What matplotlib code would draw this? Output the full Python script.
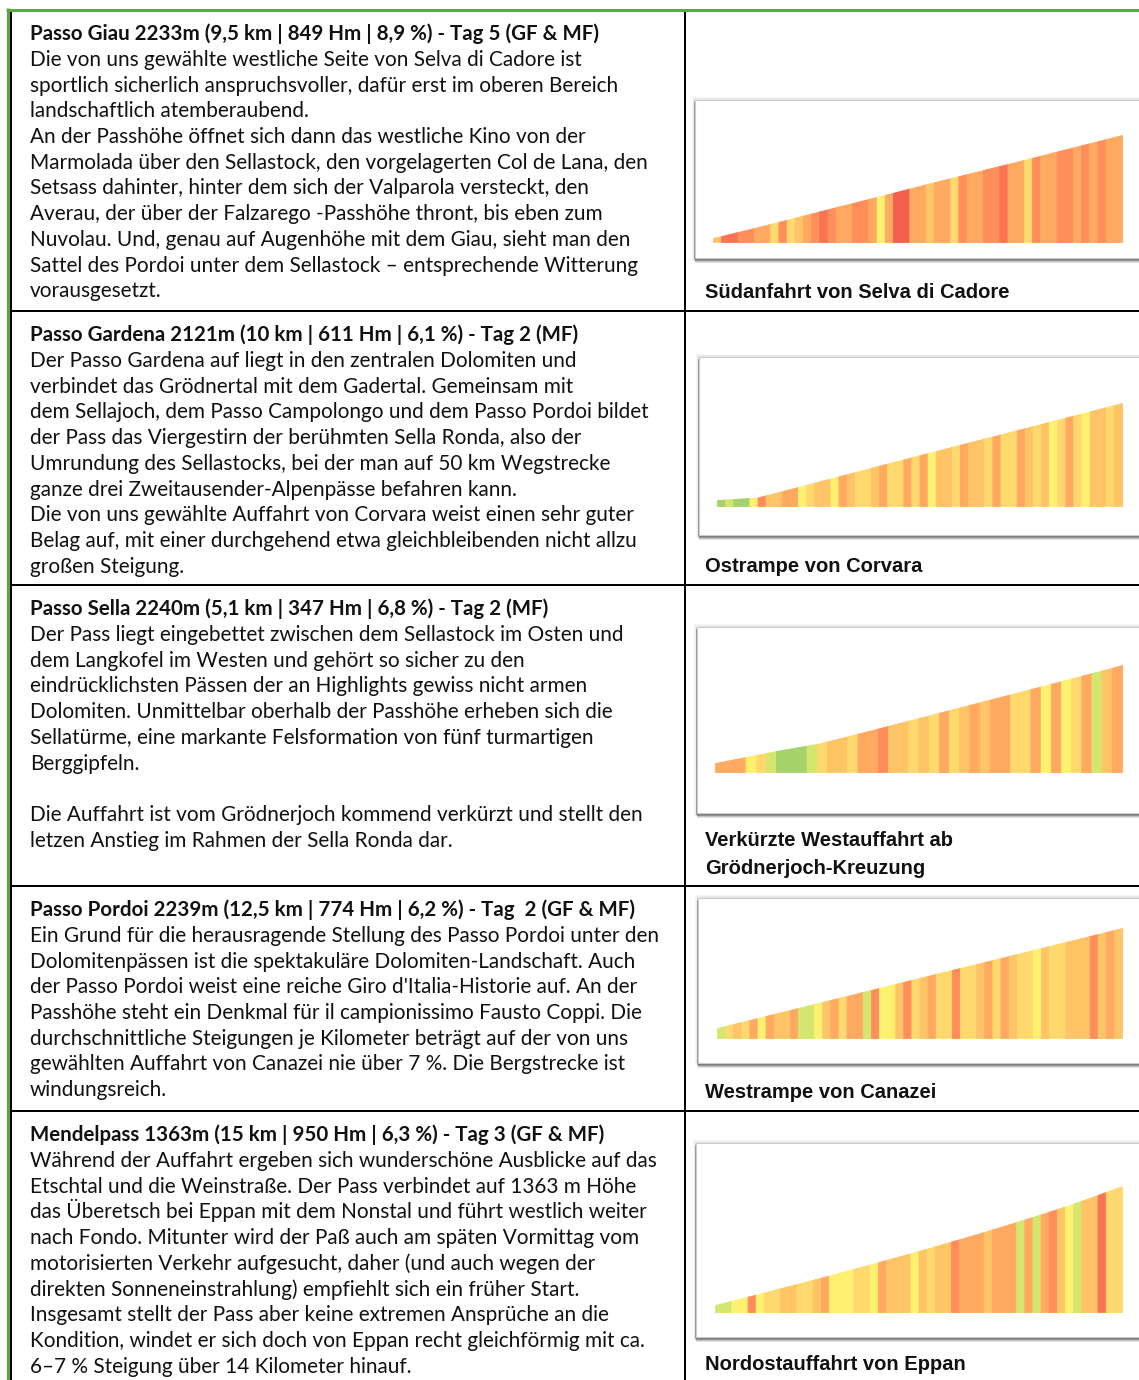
import matplotlib
matplotlib.use('Agg')
import matplotlib.pyplot as plt
from matplotlib.patches import Rectangle
import numpy as np

# ---------------- data ----------------
headers = [
    "Passo Giau 2233m (9,5 km | 849 Hm | 8,9 %) - Tag 5 (GF & MF)",
    "Passo Gardena 2121m (10 km | 611 Hm | 6,1 %) - Tag 2 (MF)",
    "Passo Sella 2240m (5,1 km | 347 Hm | 6,8 %) - Tag 2 (MF)",
    "Passo Pordoi 2239m (12,5 km | 774 Hm | 6,2 %) - Tag  2 (GF & MF)",
    "Mendelpass 1363m (15 km | 950 Hm | 6,3 %) - Tag 3 (GF & MF)",
]

body_giau = [
    "Die von uns gewählte westliche Seite von Selva di Cadore ist",
    "sportlich sicherlich anspruchsvoller, dafür erst im oberen Bereich",
    "landschaftlich atemberaubend.",
    "An der Passhöhe öffnet sich dann das westliche Kino von der",
    "Marmolada über den Sellastock, den vorgelagerten Col de Lana, den",
    "Setsass dahinter, hinter dem sich der Valparola versteckt, den",
    "Averau, der über der Falzarego -Passhöhe thront, bis eben zum",
    "Nuvolau. Und, genau auf Augenhöhe mit dem Giau, sieht man den",
    "Sattel des Pordoi unter dem Sellastock – entsprechende Witterung",
    "vorausgesetzt.",
]
body_gardena = [
    "Der Passo Gardena auf liegt in den zentralen Dolomiten und",
    "verbindet das Grödnertal mit dem Gadertal. Gemeinsam mit",
    "dem Sellajoch, dem Passo Campolongo und dem Passo Pordoi bildet",
    "der Pass das Viergestirn der berühmten Sella Ronda, also der",
    "Umrundung des Sellastocks, bei der man auf 50 km Wegstrecke",
    "ganze drei Zweitausender-Alpenpässe befahren kann.",
    "Die von uns gewählte Auffahrt von Corvara weist einen sehr guter",
    "Belag auf, mit einer durchgehend etwa gleichbleibenden nicht allzu",
    "großen Steigung.",
]
body_sella = [
    "Der Pass liegt eingebettet zwischen dem Sellastock im Osten und",
    "dem Langkofel im Westen und gehört so sicher zu den",
    "eindrücklichsten Pässen der an Highlights gewiss nicht armen",
    "Dolomiten. Unmittelbar oberhalb der Passhöhe erheben sich die",
    "Sellatürme, eine markante Felsformation von fünf turmartigen",
    "Berggipfeln.",
    "",
    "Die Auffahrt ist vom Grödnerjoch kommend verkürzt und stellt den",
    "letzen Anstieg im Rahmen der Sella Ronda dar.",
]
body_pordoi = [
    "Ein Grund für die herausragende Stellung des Passo Pordoi unter den",
    "Dolomitenpässen ist die spektakuläre Dolomiten-Landschaft. Auch",
    "der Passo Pordoi weist eine reiche Giro d'Italia-Historie auf. An der",
    "Passhöhe steht ein Denkmal für il campionissimo Fausto Coppi. Die",
    "durchschnittliche Steigungen je Kilometer beträgt auf der von uns",
    "gewählten Auffahrt von Canazei nie über 7 %. Die Bergstrecke ist",
    "windungsreich.",
]
body_mendel = [
    "Während der Auffahrt ergeben sich wunderschöne Ausblicke auf das",
    "Etschtal und die Weinstraße. Der Pass verbindet auf 1363 m Höhe",
    "das Überetsch bei Eppan mit dem Nonstal und führt westlich weiter",
    "nach Fondo. Mitunter wird der Paß auch am späten Vormittag vom",
    "motorisierten Verkehr aufgesucht, daher (und auch wegen der",
    "direkten Sonneneinstrahlung) empfiehlt sich ein früher Start.",
    "Insgesamt stellt der Pass aber keine extremen Ansprüche an die",
    "Kondition, windet er sich doch von Eppan recht gleichförmig mit ca.",
    "6–7 % Steigung über 14 Kilometer hinauf.",
]
bodies = [body_giau, body_gardena, body_sella, body_pordoi, body_mendel]

captions = [
    ["Südanfahrt von Selva di Cadore"],
    ["Ostrampe von Corvara"],
    ["Verkürzte Westauffahrt ab", "Grödnerjoch-Kreuzung"],
    ["Westrampe von Canazei"],
    ["Nordostauffahrt von Eppan"],
]

length_km = [9.5, 10.0, 5.1, 12.5, 15.0]
climb_hm = [849, 611, 347, 774, 950]
summit_m = [2233, 2121, 2240, 2239, 1363]

# elevation profile (km, m)
km_giau = [0, 1, 2, 3, 4, 5, 6, 7, 8, 9, 9.5]
elev_giau = [1384, 1470, 1560, 1651, 1740, 1832, 1920, 2008, 2098, 2188, 2233]
km_gardena = [0, 1, 2, 3, 4, 5, 6, 7, 8, 9, 10]
elev_gardena = [1510, 1526, 1592, 1659, 1726, 1792, 1858, 1923, 1989, 2055, 2121]
km_sella = [0, 0.7, 1.3, 2, 3, 4, 5, 5.1]
elev_sella = [1893, 1932, 1962, 2012, 2085, 2158, 2232, 2240]
km_pordoi = [0, 1, 2, 3, 4, 5, 6, 7, 8, 9, 10, 11, 12, 12.5]
elev_pordoi = [1465, 1527, 1589, 1651, 1713, 1775, 1837, 1899, 1960, 2022, 2084, 2146, 2208, 2239]
km_mendel = [0, 1, 2, 3, 4, 5, 6, 7, 8, 9, 10, 11, 12, 13, 14, 15]
elev_mendel = [413, 468, 524, 580, 637, 695, 754, 814, 875, 938, 1002, 1068, 1136, 1207, 1283, 1363]
profile_km = [km_giau, km_gardena, km_sella, km_pordoi, km_mendel]
profile_elev = [elev_giau, elev_gardena, elev_sella, elev_pordoi, elev_mendel]

# gradient class (%) of each equal-length segment
grad_giau = [6, 9, 9, 8, 8, 7, 7, 5, 8, 5, 6, 7, 8, 9, 8, 7, 7, 8, 8, 7,
             4, 7, 10, 10, 7, 7, 6, 7, 7, 5, 8, 7, 7, 8, 8, 9, 7, 7, 5, 8,
             7, 7, 8, 8, 7, 8, 7, 8, 7, 7]
grad_gardena = [2, 3, 2, 2, 4, 8, 6, 6, 7, 7, 4, 5, 6, 6, 4, 7, 6, 5, 5, 6,
                7, 5, 5, 7, 5, 7, 4, 6, 6, 5, 7, 6, 6, 5, 7, 5, 5, 7, 6, 5,
                6, 4, 5, 7, 5, 4, 6, 6, 5, 6]
grad_sella = [7, 7, 7, 4, 5, 3, 2, 2, 2, 3, 5, 6, 6, 5, 7, 7, 8, 6, 6, 5,
              6, 5, 7, 5, 6, 7, 6, 7, 7, 5, 5, 7, 4, 7, 4, 5, 7, 3, 6, 7]
grad_pordoi = [3, 5, 6, 5, 7, 4, 7, 6, 6, 7, 3, 3, 4, 6, 7, 5, 7, 7, 3, 8,
               4, 4, 6, 8, 5, 6, 7, 5, 5, 8, 5, 5, 6, 7, 5, 7, 6, 5, 5, 4,
               6, 5, 5, 6, 6, 6, 8, 6, 7, 6]
grad_mendel = [3, 3, 4, 4, 8, 4, 5, 5, 6, 6, 5, 5, 6, 7, 4, 4, 4, 5, 5, 4,
               7, 6, 6, 6, 4, 6, 5, 6, 6, 8, 7, 7, 7, 6, 7, 7, 7, 3, 7, 3,
               7, 8, 6, 4, 3, 6, 6, 9, 5, 5]
gradients = [grad_giau, grad_gardena, grad_sella, grad_pordoi, grad_mendel]

# ---------------- style / layout ----------------
GRAD_COLORS = {2: '#a6d26a', 3: '#d5e66f', 4: '#fff170', 5: '#ffd96d',
               6: '#ffc466', 7: '#ffa961', 8: '#ff8e5b', 9: '#fa7354',
               10: '#f4604d'}
GREEN = '#5aab35'
INK = '#111111'
BODY_FONT = 'Lato'
CAP_FONT = 'Liberation Sans'

W, H = 1139, 1380
row_tops = [10, 311, 585, 886, 1111]
row_bottoms = [311, 585, 886, 1111, 1383]
# profile box (left, top, bottom) and profile area (left, right, baseline, start top, end top), px
boxes = [(695, 100, 258), (699, 357, 535), (697, 627, 813), (698, 898, 1063), (696, 1143, 1337)]
prof = [(713, 1122, 242, 238, 135), (717, 1122, 506, 500, 403), (715, 1122, 772, 763, 665),
        (717, 1122, 1038, 1028, 928), (715, 1122, 1312, 1305, 1186)]

fig = plt.figure(figsize=(W / 100, H / 100), dpi=100)
fig.patch.set_facecolor('white')
ax = fig.add_axes([0, 0, 1, 1])
ax.set_xlim(0, W)
ax.set_ylim(H, 0)
ax.axis('off')

renderer = fig.canvas.get_renderer()


def fit(text, family, weight, target_px, fs0=12.0):
    t = ax.text(0, 100, text, fontsize=fs0, family=family, weight=weight)
    w = t.get_window_extent(renderer).width
    t.remove()
    return fs0 * target_px / w


body_fs = fit(body_giau[0], BODY_FONT, 'normal', 550)
head_fs = fit(headers[0], BODY_FONT, 'bold', 568)
cap_fs = fit(captions[0][0], CAP_FONT, 'bold', 303)

# ---------------- table lines ----------------
px = 0.72  # points per pixel
for y in row_tops[1:]:
    ax.plot([11, W], [y, y], color='black', lw=2 * px, solid_capstyle='butt', zorder=3)
ax.plot([684.5, 684.5], [10, H], color='black', lw=2 * px, solid_capstyle='butt', zorder=3)
ax.plot([11, 11], [10, H], color='black', lw=2 * px, solid_capstyle='butt', zorder=3)
ax.plot([7.5, 7.5], [8, H], color=GREEN, lw=3 * px, solid_capstyle='butt', zorder=4)
ax.plot([6, W], [9.5, 9.5], color=GREEN, lw=3 * px, solid_capstyle='butt', zorder=4)

# ---------------- texts ----------------
for r in range(5):
    hb = row_tops[r] + 30
    ax.text(30, hb, headers[r], fontsize=head_fs, family=BODY_FONT, weight='bold',
            color=INK, va='baseline', ha='left')
    for k, line in enumerate(bodies[r]):
        if line:
            ax.text(30, hb + 26 + 25.7 * k, line, fontsize=body_fs, family=BODY_FONT,
                    color=INK, va='baseline', ha='left')
    caps = captions[r]
    for k, line in enumerate(caps):
        yb = row_bottoms[r] - 12.5 - 27 * (len(caps) - 1 - k)
        ax.text(705, yb, line, fontsize=cap_fs, family=CAP_FONT, weight='bold',
                color=INK, va='baseline', ha='left')

# ---------------- profile boxes ----------------
for r in range(5):
    bx, bt, bb = boxes[r]
    bw = W + 20 - bx
    bh = bb - bt
    for k in range(1, 7):
        ax.add_patch(Rectangle((bx - 1 + 0.15 * k, bt + 0.85 * k), bw, bh, facecolor='black',
                               alpha=0.12, edgecolor='none', zorder=5))
    for k in range(1, 4):
        ax.add_patch(Rectangle((bx - k, bt - k), bw + 2 * k, bh + 2 * k, facecolor='black',
                               alpha=0.035, edgecolor='none', zorder=5))
    ax.add_patch(Rectangle((bx, bt), bw, bh, facecolor='white', edgecolor='#cccccc',
                           lw=0.8, zorder=6))

# ---------------- profiles ----------------
for r in range(5):
    x0, x1, base, stop, etop = prof[r]
    km = length_km[r]
    g = gradients[r]
    n = len(g)
    dist = np.linspace(0, km, n + 1)
    elev = np.interp(dist, profile_km[r], profile_elev[r])
    e0 = profile_elev[r][0]
    top = profile_elev[r][-1]
    hpx = base - etop
    s = base - stop
    bottom = e0 - (top - e0) * s / (hpx - s)
    pax = fig.add_axes([x0 / W, 1 - base / H, (x1 - x0) / W, hpx / H])
    pax.set_facecolor('none')
    pax.axis('off')
    pax.set_xlim(0, km)
    pax.set_ylim(bottom, top)
    for i in range(n):
        col = GRAD_COLORS[int(g[i])]
        pax.fill_between([dist[i], dist[i + 1]], bottom, [elev[i], elev[i + 1]],
                         facecolor=col, edgecolor=col, lw=0.6)

fig.savefig('out.png', dpi=100, facecolor='white')
